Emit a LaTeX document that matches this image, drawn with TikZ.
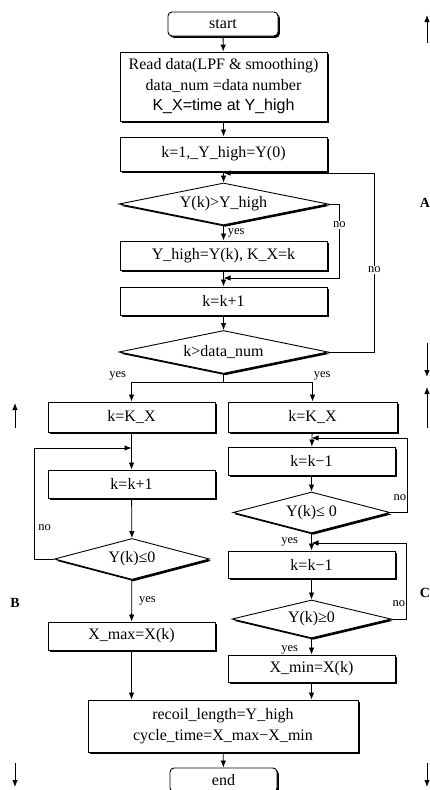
\documentclass[tikz,border=0pt]{standalone}
\usepackage{fontspec}
\setmainfont{Liberation Serif}
\newfontfamily\labelsans{Liberation Sans}
\usetikzlibrary{shapes.geometric, shadows, arrows.meta}

\begin{document}
\begin{tikzpicture}[
  x=1pt, y=-1pt, >={Latex[length=7pt, width=5.5pt]},
  every node/.style={font=\fontsize{16}{20.5}\selectfont},
  procbox/.style={draw, line width=0.9pt, fill=white, inner sep=0pt, align=center,
    drop shadow={shadow xshift=1.8pt, shadow yshift=-1.8pt, fill=black, opacity=1}},
  termbox/.style={procbox, rounded corners=4pt},
  decision/.style={diamond, shape aspect=5, procbox},
  flow/.style={->, line width=0.8pt},
  answer/.style={font=\fontsize{12.5}{14}\selectfont, inner sep=1pt},
  sidetag/.style={font=\bfseries\fontsize{14}{16}\selectfont}
]
\useasboundingbox (0,0) rectangle (430,790);

%% ── main column ──────────────────────────────────────────────────────────────
\node[termbox, minimum width=110pt, minimum height=24pt] (start) at (223,24) {start};
\node[procbox, minimum width=207pt, minimum height=69pt] (read) at (223.5,86.5)
  {Read data(LPF \& smoothing)\\data\_num =data number\\{\labelsans K\_X=time at Y\_high}};
\node[procbox, minimum width=207pt, minimum height=34pt] (init) at (223.5,154)
  {k=1,\_Y\_high=Y(0)};
\node[decision, minimum width=209pt, minimum height=42pt] (cmpmax) at (223.5,204)
  {Y(k)>Y\_high};
\node[procbox, minimum width=207pt, minimum height=29pt] (update) at (223.5,255.5)
  {Y\_high=Y(k), K\_X=k};
\node[procbox, minimum width=207pt, minimum height=28pt] (inc) at (223.5,301)
  {k=k+1};
\node[decision, minimum width=209pt, minimum height=43pt] (cmpend) at (223.5,352)
  {k>data\_num};

%% ── left column: search forward ──────────────────────────────────────────────
\node[procbox, minimum width=167pt, minimum height=30pt] (lstart) at (131.5,417) {k=K\_X};
\node[procbox, minimum width=167pt, minimum height=28pt] (linc) at (131.5,484) {k=k+1};
\node[decision, minimum width=155pt, minimum height=41pt] (lcheck) at (132,559) {Y(k)≤0};
\node[procbox, minimum width=167pt, minimum height=28pt] (lmax) at (131.5,636) {X\_max=X(k)};

%% ── right column: search backward ────────────────────────────────────────────
\node[procbox, minimum width=169pt, minimum height=30pt] (rstart) at (312.5,417) {k=K\_X};
\node[procbox, minimum width=167pt, minimum height=28pt] (rdec1) at (311.5,461) {k=k−1};
\node[decision, minimum width=157pt, minimum height=41pt] (rcheck1) at (311.5,512.5) {Y(k)≤ 0};
\node[procbox, minimum width=167pt, minimum height=27pt] (rdec2) at (311.5,564.5) {k=k−1};
\node[decision, minimum width=159pt, minimum height=38pt] (rcheck2) at (311.5,619) {Y(k)≥0};
\node[procbox, minimum width=167pt, minimum height=27pt] (rmin) at (311.5,668.5) {X\_min=X(k)};

%% ── result and end ───────────────────────────────────────────────────────────
\node[procbox, minimum width=270pt, minimum height=52pt] (result) at (223,726)
  {recoil\_length=Y\_high\\[1pt]cycle\_time=X\_max−X\_min};
\node[termbox, minimum width=107pt, minimum height=24pt] (end) at (223.5,780) {end};

%% ── join points ──────────────────────────────────────────────────────────────
\coordinate (joinB) at (223.5,173);
\coordinate (joinA) at (223.5,278);
\coordinate (split) at (223.5,382);
\coordinate (joinL) at (131.5,448);
\coordinate (joinR1) at (311.5,438);
\coordinate (joinR2) at (311.5,543);

%% ── connectors, main column ──────────────────────────────────────────────────
\draw[flow] (start) -- (read);
\draw[flow] (read) -- (init);
\draw[flow] (init) -- (cmpmax);
\draw[flow] (cmpmax) -- node[answer, right, xshift=3pt] {yes} (update);
\draw[flow] (cmpmax.east) -- ++(11,0) |- node[answer, fill=white, pos=0.14] {no} (joinA);
\draw[flow] (update) -- (inc);
\draw[flow] (inc) -- (cmpend);
\draw[flow] (cmpend.east) -- ++(46,0) |- node[answer, fill=white, pos=0.23] {no} (joinB);

%% ── branch ───────────────────────────────────────────────────────────────────
\draw[line width=0.8pt] (cmpend) -- (split);
\draw[flow] (split) -| node[answer, pos=0.5, above left, xshift=-4pt] {yes} (lstart);
\draw[flow] (split) -| node[answer, pos=0.5, above right] {yes} (rstart);

%% ── connectors, left column ──────────────────────────────────────────────────
\draw[flow] (lstart) -- (linc);
\draw[flow] (lcheck.west) -- ++(-20,0) |- node[answer, right, pos=0.14, xshift=3pt] {no} (joinL);
\draw[flow] (linc) -- (lcheck);
\draw[flow] (lcheck) -- node[answer, right, xshift=6pt] {yes} (lmax);
\draw[flow] (lmax) -- (lmax |- result.north);

%% ── connectors, right column ─────────────────────────────────────────────────
\draw[flow] (rstart) -- (rdec1);
\draw[flow] (rcheck1.east) -- ++(17,0) |- node[answer, left, pos=0.1] {no} (joinR1);
\draw[flow] (rdec1) -- (rcheck1);
\draw[flow] (rcheck1) -- node[answer, left, xshift=-12pt] {yes} (rdec2);
\draw[flow] (rcheck2.east) -- ++(15,0) |- node[answer, left, pos=0.1] {no} (joinR2);
\draw[flow] (rdec2) -- (rcheck2);
\draw[flow] (rcheck2) -- node[answer, left, pos=0.7, xshift=-12pt] {yes} (rmin);
\draw[flow] (rmin) -- (rmin |- result.north);
\draw[flow] (result) -- (end);

%% ── section marks A, B, C ────────────────────────────────────────────────────
\node[sidetag] (tagA) at (425,203) {A};
\node[sidetag] (tagB) at (15,603) {B};
\node[sidetag] (tagC) at (425,593) {C};
\foreach \mk/\sx/\ya/\yb in {a1/427/43/15, a2/427/343/377, c1/427/428/387,
                             c2/427/763/787, b1/15/428/403, b2/15/763/787} {
  \coordinate (\mk-from) at (\sx,\ya);
  \coordinate (\mk-to) at (\sx,\yb);
  \draw[flow] (\mk-from) -- (\mk-to);
}

\end{tikzpicture}
\end{document}
